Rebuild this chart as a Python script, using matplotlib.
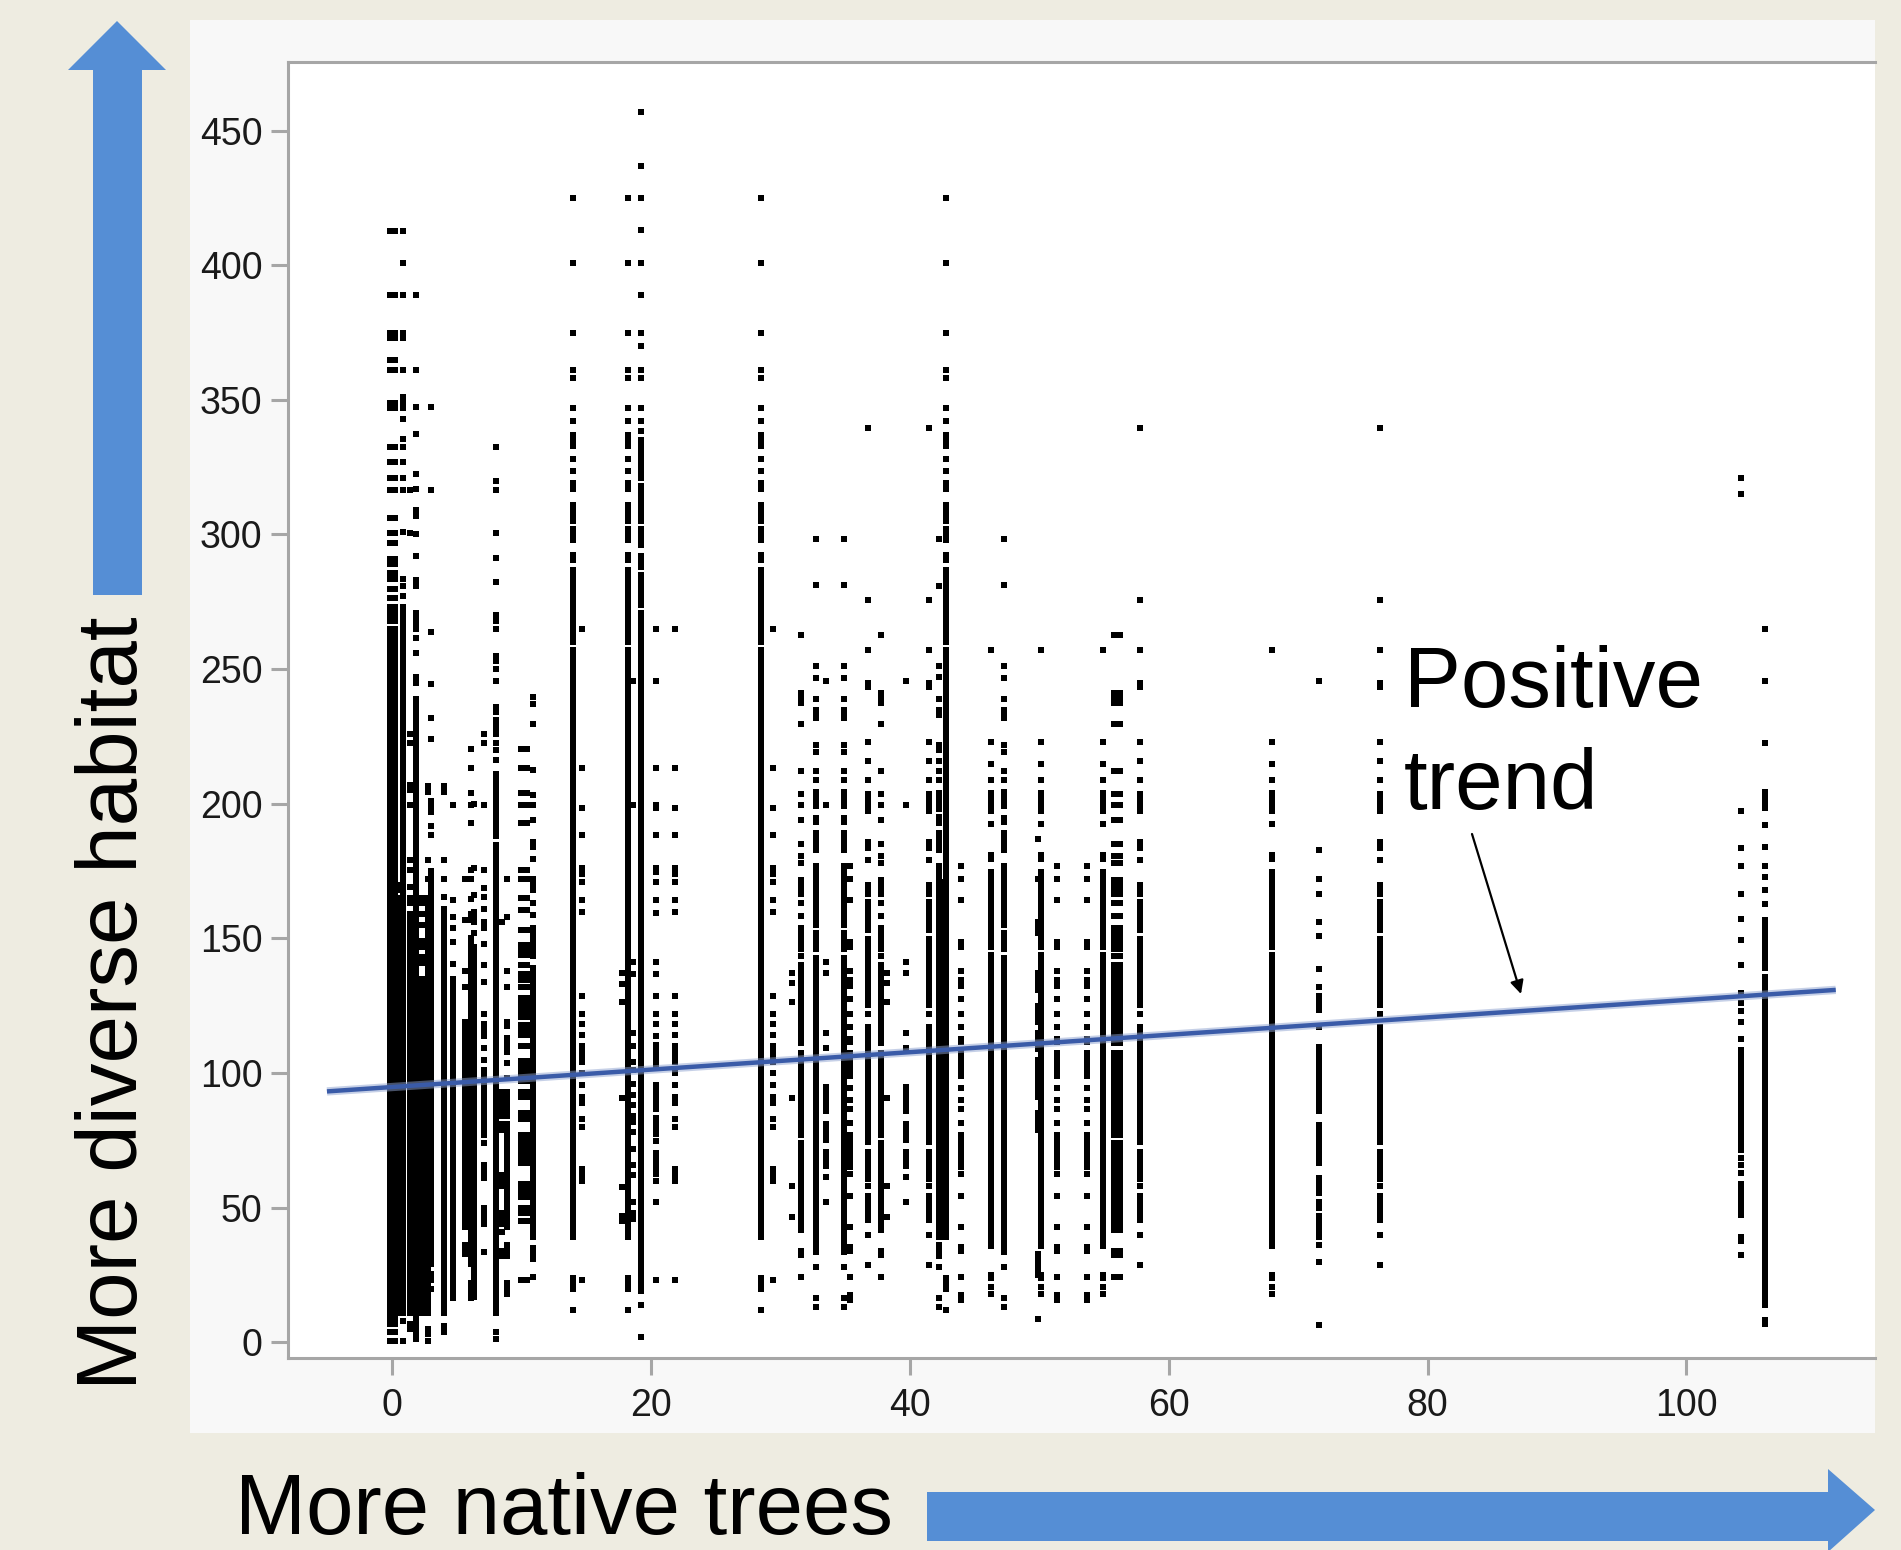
import matplotlib
matplotlib.use("Agg")
import matplotlib.pyplot as plt
from matplotlib.patches import Polygon, Rectangle

W, H = 1901, 1550
plt.rcParams['font.family'] = ['Liberation Sans', 'DejaVu Sans']

tall_low = [257,255,253,251,249,247,245,243,241,239,237,235,233,231,229,227,225,223,221,219,217,215,213,211,209,207,205,203,201,199,197,195,193,191,189,187,185,183,181,179,177,175,173,171,169,167,165,163,161,159,157,155,153,151,149,147,145,143,141,139,137,135,133,131,129,127,125,123,121,119,117,115,113,111,109,107,105,103,101,99,97,95,93,91,89,87,85,83,81,79,77,75,73,71,69,67,65,63,61,59,57,55,53,51,49,47,45,43,41,39]
low_end = [37,35,33,31,29,27,25,23,21,19,17,15,13,11,9,7]

y_a = [425,401,375,361,358,347,342,337,335,333,328,323.5,319,317,311,309,307,305,302,300,298,292.5,290.5,287,285,283,281,279,277,275,273,271,269,267,265,263,261,260] + tall_low + [24,22,20,12]
y_19 = [457,437,425,413,401,389,375,370,361,358,347,342,338.6,335,333,331,329,327,325,323,321,318,316,314,312,310,308,306,305,302,300,298,296,292,290,288,285,283,281,279,277,275,274,271,269,267,265,263,261,259] + tall_low + low_end[:10] + [14,2]
y_0 = [412.7,388.8,375,373,364.8,361,349,347,332.6,327,321,316.5,306,300.6,297,291,289,285.6,283.5,279.9,276.6,273,271,269,268,265,263,261,259] + tall_low + low_end + [4,0.4]
y_1 = [412.7,401,388.8,375,373,361,351,349,347,343,335.5,332.6,327,321,316.5,301,283.5,281,277,273,271,269,267,265,263,261,259] + tall_low + low_end[:14] + [8,0.4]
y_1b = [316.5,300.6,225.8,222.6,207,205,199.7,179,175.6,169,165,163,159,157,155,153,151,149] + tall_low[55:] + low_end[:14] + [7,5]
y_05 = [170,168] + tall_low[46:] + low_end[:14]
y_2 = [388.8,361,347.4,337.4,322.4,317,309,307,300,292,283,281,271,269,267,265,261.7,256,247,245] + tall_low[9:] + low_end + [5,3,1.3]
y_23 = [165,163,159,155,149,147,143,141,135,133,131,129] + tall_low[64:] + low_end[:14]
y_275 = [206.5,204.5,179,172] + tall_low[46:] + low_end[:14] + [5,3,0.4]
y_3 = [347.4,316.5,263.8,244.4,231.9,224,201,199,197,191.7,188.3] + tall_low[41:] + low_end[:5] + [25.5,23,20]
y_4 = [206.5,204.5,179,172,165.4] + tall_low[48:] + low_end[:14] + [6,4]
y_47 = [199.7,164.3,158,153.8,148.7,140.6] + tall_low[61:] + low_end[:6] + [24.5,22.5,20.5,18.5,16.5]
y_56 = [172,157,138,132] + tall_low[69:108] + [36,34.8,33]
y_61 = [220.5,213.3,204,199.7,192.9,175.6,172,164.6,159,157,150] + tall_low[54:] + low_end[:5] + [22,20,18,16.5]
y_63 = [200,176,166,160,158,156,152] + tall_low[55:] + low_end[:11]
y_71 = [225.8,222.6,199.7,175.6,168.8,165.4,160.9,156,153.8,148,140,134,121.8,118.4,116,113.7,109.3,105,101,99,97,95,93,91,89,87,85,83,81,79,77,74,66,64,62,61,50,48,46,44,33.5]
y_8 = [332.6,320,316.5,300.6,291.4,282.3,270,268,265,255,253,250,245.5,236,234,231,229,227,225.9,222.6,220,216.4,211,209,207,205,203,201,199,197,195,193,191,189,188,184.7,182.7,180.7,178.7,176.7,174.7,172.7,170.7,168.7,166.7] + tall_low[46:] + low_end[:14] + [3.7,1.1]
y_85 = [156,93,91,89,87,85,84,81,79,62,60,58,48,46,44,41,34,32]
y_89 = [172,158,138,132,119,117.6,113,111,109,108,103.6,98,93,91,89,87,85,84] + tall_low[88:108] + [36,34,32,22,20,18]
y_10 = [220.5,213.3,204,199.7,192.9,175.6,172,165,160.5,153,147.7,145.7,144,140,136.7,134.7,132,128,126,124,122,121,118,116,114,110,104.5,102.5,100.5,98.5,97,93,91,85,83,77,75,73,71,69,67,66.7,59,57,55,54,50,48,45,23]
y_109 = [239.5,237,229.6,212.4,203.3,199.7,194,186,184,179.5,172,170,168,163.3,158.6,154,152,150,148,146,144,143.5] + tall_low[59:] + [33,31,35,24.4]
y_g = [265,213.4,198.5,188.3,176,174,171,164.4,159.7,128.7,122,118.2,114,110,108,106.4,104,100,95.7,91,89,83,80,64.4,62,60,23.3]
y_1775 = [137,133,126.4,90.7,57.8,47,45]
y_186 = [245.5,199.7,141.3,136.8,115,110,104,101,96,92,88,84,82,78,72,66,62,52,48,46]
y_204 = [265,245.5,213.3,199.5,198.5,188.3,176,174.5,171,164.3,159.5,141.3,136.8,128.6,121.8,118.2,113.7,110.6,108.5,106.5,104.5,102.3,95.4,93.4,91.4,89.4,87.4,86.6,83.3,81.3,79.3,77.3,74.7,70.4,68.4,66.4,64.4,62.4,60,52,23]
y_b = [339.6,275.5,257.2,245,243.5,222.9,215.8,209,203.7,201.7,199.7,197.4,186,183.6,179.3,170,168,166.6,163.4,161.4,159.4,157.4,155.4,153,149.7,147.7,145.7,143.7,141.7,139.7,137.7,135.7,133.7,131.7,129.7,127.7,125.2,122,117,115,113,111,109,107,105,103,101,99,97,95,93,91,89,87,85,83,81,79,77,75,74.3,70.6,68.6,66.6,64.6,62.6,60.6,58.1,54.5,52.5,50.5,48.5,46.5,45.4,40,28.7]
y_c = [262.7,241,239,237.6,229.8,212.2,203.5,199.7,194,185.2,180.5,178,171.7,169.7,167.7,166.6,163,158.5,153.9,151.9,149.9,147.9,145.9,143.6,140.2,138.2,136.2,134.2,132.2,130.2,128.2,126.2,124.2,122.2,120.2,118.2,116.2,114.2,112.2,111,107.3,105.3,103.3,101.3,99.3,97.3,95.3,93.3,91.3,89.3,87.3,85.3,83.3,81.3,79.3,77,73.9,71.9,69.9,67.9,65.9,63.9,61.9,59.9,57.9,55.9,53.9,51.9,49.9,47.9,45.9,43.9,41.8,33.9,32.6,24.4]
y_d = [298.4,281.1,251,246.8,238.8,235,233,231.7,222,219.4,212.2,209,204.4,202.4,200.4,199.3,194.9,193.1,189.2,187.2,185.2,182.7,177] + tall_low[41:52] + [152,150,148,146,142.6,140.6,138.6,136.6,134.6,132.6] + tall_low[63:] + [37.9,35.9,33.5,28,16.6,13]
y_e = [177,172,164.4,148.5,147,137.9,134.5,132.3,127.7,122,117.3,112.5,111.4,107.3,105.3,103.3,101.3,99,94.5,90,86.7,81.3,77,75,73,71,69,67,65,62.4,54.3,43,35.5,34,24.4,17.5,15.7]
y_f = [257.2,222.9,214.8,209,204,202,200,198,197.4,192.4,181,179.4,174.5,172.5,170.5,168.5,166.5,164.5,162.5,160.5,158.5,156.5,154.5,152.5,150.5,148.5,147,143.8,141.8,139.8,137.8] + tall_low[60:] + low_end[:1] + [35.9,25,24,20.6,17.9]
y_h = [137,133.4,126.5,90.8,57.9,46.5]
y_k = [245.6,199.7,141.4,137,114.9,109.2,94.7,92.5,90.5,88,86,81,79,77,75,70.6,68.5,66.5,65.5,61.6,52]
y_499 = [187,172,156,154,152,137,135,133,131,125,123,121,119,115,113,111,109,105,103,101,99,97,95,93,91,85,83,81,79,33,31,29,27,25,8.6]
y_4225 = [298.4,281,251,247,239,235,233,222,220,216,212,209,204,202,200,198,195,193,189,187,185,183,177] + tall_low[41:] + [36,34,32,28,16.6,13]
y_425 = tall_low[43:]
y_716 = [245.7,182.7,172,166.6,156.2,151,138.7,132,128.7,126.7,124.7,123.6,117,109.7,107.7,105.7,103.7,101.7,99.7,97.7,95.7,93.7,91.7,89.7,87.7,86,80.8,78.8,76.8,74.8,72.8,70.8,68.8,66.8,61,59,57,55.6,52,50,47,45,43,41,39,36,30,6.3]
y_1042 = [321,315,197.4,183.7,177,166.6,157.4,149.6,140,129.7,126,123,119,112.5,108.5,106.5,104.5,102.5,101.2,99,97,95,93,91,89,87,85,83,81,79,77,75,73,71.5,68.5,66,63,58.8,56.8,54.8,52.8,50.8,48.8,47.3,39,37.5,32.6]
y_1061 = [265,245.7,222.5,204.4,202.4,200.4,198.6,192,184,177,172.8,168,162.8,157,155,153,151,149,147,145,143,141,139,135.8,133.8,131.8,129.8,127.8,125.8,123.8,121.8,119.8,117.8,115.8,113.8,111.8,109.8,107.8,105.8,103.8,101.8,99.8,97.8,95.8,93.8,91.8,89.8,87.8,85.8,83.8,81.8,79.8,77.8,75.8,73.8,71.8,69.8,67.8,65.8,63.8,61.8,59.8,57.8,55.8,53.8,51.8,49.8,47.8,45.8,43.8,41.8,39.8,37.8,35.8,33.8,31.8,29.8,27.8,25.8,23.8,21.8,19.8,17.8,15.8,13.9,8.5,7]

columns = [
    ([-0.2, 0.2], y_0), ([0.5], y_05), ([0.85], y_1), ([1.35], y_1b), ([1.83], y_2), ([2.3], y_23),
    ([2.75], y_275), ([3.0], y_3), ([4.0], y_4), ([4.7], y_47), ([5.6], y_56), ([6.1], y_61), ([6.3], y_63),
    ([7.1], y_71), ([8.0], y_8), ([8.5], y_85), ([8.9], y_89), ([9.95, 10.4], y_10), ([10.9], y_109),
    ([14.0, 18.25, 28.5, 42.8], y_a), ([14.66, 21.85, 29.4], y_g), ([17.75], y_1775), ([18.6], y_186),
    ([19.2], y_19), ([20.4], y_204),
    ([30.9, 38.2], y_h), ([31.6, 37.8, 55.8, 56.2], y_c), ([32.74, 34.9, 47.3], y_d), ([33.5, 39.7], y_k),
    ([35.4, 43.95, 51.4, 53.7], y_e), ([36.8, 41.5, 57.8, 76.3], y_b), ([42.25], y_4225), ([42.5], y_425),
    ([46.3, 50.1, 54.9, 68.0], y_f), ([49.9], y_499), ([71.6], y_716), ([104.2], y_1042), ([106.1], y_1061),
]

x_ticks = [0, 20, 40, 60, 80, 100]
y_ticks = [0, 50, 100, 150, 200, 250, 300, 350, 400, 450]
trend_x = [-5.05, 111.55]
trend_y = [93.2, 130.9]

def fx(x): return x / W
def fy(y): return 1 - y / H

fig = plt.figure(figsize=(W / 100, H / 100), dpi=100, facecolor='#EEECE1')
fig.add_artist(Rectangle((fx(190), fy(1433)), (1875 - 190) / W, (1433 - 20) / H,
                         transform=fig.transFigure, fc='#F8F8F8', ec='none', zorder=-5))
ax = fig.add_axes([fx(288), fy(1358), (1875 - 288) / W, (1358 - 62) / H], facecolor='white')
ax.set_xlim((288 - 392.3) / 12.94, (1875 - 392.3) / 12.94)
ax.set_ylim((1342.4 - 1358) / 2.693, (1342.4 - 62) / 2.693)

for xs, ys in columns:
    for x in xs:
        ax.scatter([x] * len(ys), ys, marker='s', s=21, color='black', linewidths=0, zorder=2)

ax.plot(trend_x, trend_y, color='#8FA3D0', lw=6, alpha=0.5, solid_capstyle='butt', zorder=3)
ax.plot(trend_x, trend_y, color='#3A5BA8', lw=3.2, solid_capstyle='butt', zorder=4)

ax.spines['right'].set_visible(False)
for s in ['left', 'top', 'bottom']:
    ax.spines[s].set_color('#A6A6A6')
    ax.spines[s].set_linewidth(2.2)
ax.set_xticks(x_ticks)
ax.set_yticks(y_ticks)
ax.tick_params(axis='both', length=12.5, width=2.2, color='#A6A6A6', labelsize=27,
               labelcolor='#1A1A1A')
ax.tick_params(axis='x', pad=9)
ax.tick_params(axis='y', pad=6)

# blue arrows
up = [(93, 595), (142, 595), (142, 70), (166, 70), (117, 21), (68, 70), (93, 70)]
right = [(927, 1492), (1828, 1492), (1828, 1469), (1875, 1510), (1828, 1552), (1828, 1541), (927, 1541)]
for pts in (up, right):
    fig.add_artist(Polygon([(fx(a), fy(b)) for a, b in pts], closed=True,
                           transform=fig.transFigure, fc='#558ED5', ec='none'))

fig.text(fx(115), fy(1003), 'More diverse habitat', rotation=90, ha='center', va='center',
         fontsize=61.5, color='black')
fig.text(fx(235), fy(1534), 'More native trees', ha='left', va='baseline', fontsize=61.3, color='black')
fig.text(fx(1404), fy(707), 'Positive', ha='left', va='baseline', fontsize=61.5, color='black')
fig.text(fx(1404), fy(809), 'trend', ha='left', va='baseline', fontsize=61.5, color='black')

ax.annotate('', xy=(fx(1521), fy(994)), xytext=(fx(1472), fy(834)),
            xycoords='figure fraction', textcoords='figure fraction',
            arrowprops=dict(arrowstyle='-|>,head_length=0.8,head_width=0.4', color='black', lw=1.6,
                            shrinkA=0, shrinkB=0), zorder=6)

fig.savefig('out.png', dpi=100, facecolor=fig.get_facecolor())
